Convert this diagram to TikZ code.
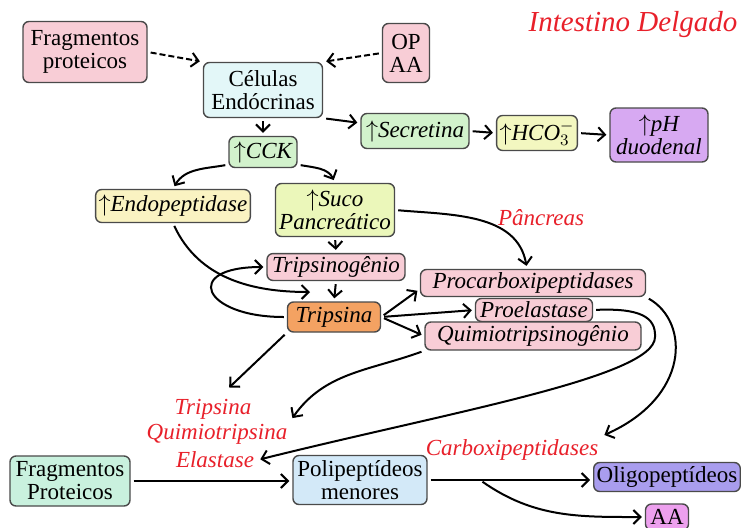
\documentclass[tikz,border=0pt]{standalone}
\usepackage{fontspec}
\setmainfont{Liberation Serif}
\usetikzlibrary{arrows.meta}
\definecolor{Borda}{HTML}{4A4A4A}
\definecolor{Rosa}{HTML}{F8CDD6}
\definecolor{Ciano}{HTML}{E3F7F8}
\definecolor{Verde}{HTML}{D2F2CC}
\definecolor{AmareloHCO}{HTML}{F3F7C0}
\definecolor{AmareloEndo}{HTML}{FAF3C2}
\definecolor{AmareloSuco}{HTML}{EBF7BA}
\definecolor{Roxo}{HTML}{D7A9F2}
\definecolor{Laranja}{HTML}{F4A262}
\definecolor{Aqua}{HTML}{C9F1DE}
\definecolor{Azul}{HTML}{D3E9F8}
\definecolor{Lilas}{HTML}{A99DEE}
\definecolor{Magenta}{HTML}{EDA0EE}
\definecolor{Vermelho}{HTML}{E8202A}

\begin{document}
\begin{tikzpicture}[
    x=0.5pt, y=0.5pt,
    >={Straight Barb[length=3.5pt,width=7pt]},
    caixa/.style={
        draw=Borda,
        line width=0.7pt,
        rounded corners=3pt,
        align=center,
        inner sep=1.5pt,
        font=\fontsize{11.5}{11.5}\selectfont
    },
    caixait/.style={
        caixa,
        font=\fontsize{11.5}{11.5}\selectfont\itshape
    },
    rotulo/.style={
        text=Vermelho,
        align=center,
        inner sep=1.5pt,
        font=\fontsize{11.5}{12.5}\selectfont\itshape
    },
    seta/.style={
        ->,
        line width=1pt,
        shorten >=1.5pt,
        shorten <=1.5pt
    },
    tracejada/.style={
        seta,
        dash pattern=on 3pt off 1.5pt
    }
]
\useasboundingbox (0,0) rectangle (743,527);

% sinais hormonais
\node[caixa, fill=Rosa, minimum width=62pt, minimum height=30.5pt] (frag1) at (85,475) {Fragmentos\\proteicos};
\node[caixa, fill=Rosa, minimum width=23.5pt, minimum height=29.5pt] (opaa) at (406,474) {OP\\AA};
\node[caixa, fill=Ciano, minimum width=59.5pt, minimum height=27.5pt] (celulas) at (263,437) {Células\\Endócrinas};
\node[rotulo, font=\fontsize{14.5}{14.5}\selectfont\itshape] (intestino) at (633,502) {Intestino Delgado};

\node[caixait, fill=Verde, minimum width=54pt, minimum height=17.5pt] (secretina) at (415,396) {$\uparrow$Secretina};
\node[caixait, fill=AmareloHCO, minimum width=40pt, minimum height=17.5pt] (hco) at (537,394) {$\uparrow$HCO$_3^-$};
\node[caixait, fill=Roxo, minimum width=49pt, minimum height=27pt] (ph) at (659,392) {$\uparrow$pH\\duodenal};
\node[caixait, fill=Verde, minimum width=34pt, minimum height=15.5pt] (cck) at (263,375) {$\uparrow$CCK};

% pancreas
\node[caixait, fill=AmareloEndo, minimum width=77pt, minimum height=16.5pt] (endo) at (173,321) {$\uparrow$Endopeptidase};
\node[caixait, fill=AmareloSuco, minimum width=59.5pt, minimum height=26.5pt] (suco) at (335,317) {$\uparrow$Suco\\Pancreático};
\node[rotulo] (pancreas) at (541,309) {Pâncreas};
\node[caixait, fill=Rosa, minimum width=69pt, minimum height=13pt] (tripsinogenio) at (336,260) {Tripsinogênio};
\node[caixait, fill=Laranja, minimum width=46.5pt, minimum height=15pt] (tripsina) at (334,210) {Tripsina};
\node[caixait, fill=Rosa, minimum width=112.5pt, minimum height=13.5pt] (procarbox) at (533,244) {Procarboxipeptidases};
\node[caixait, fill=Rosa, minimum width=58.5pt, minimum height=11.5pt] (proelastase) at (534,217) {Proelastase};
\node[caixait, fill=Rosa, minimum width=108pt, minimum height=14pt] (quimio) at (533,191) {Quimiotripsinogênio};

\node[rotulo] (enzA) at (213,118) {Tripsina};
\node[rotulo] (enzB) at (217,93) {Quimiotripsina};
\node[rotulo] (enzC) at (215,67) {Elastase};

% digestao
\node[caixa, fill=Aqua, minimum width=60pt, minimum height=25pt] (frag2) at (70,46) {Fragmentos\\Proteicos};
\node[caixa, fill=Azul, minimum width=67pt, minimum height=24.5pt] (polipep) at (360,47) {Polipeptídeos\\menores};
\node[rotulo] (carboxi) at (512,77) {Carboxipeptidases};
\node[caixa, fill=Lilas, minimum width=72.5pt, minimum height=14.5pt] (oligo) at (667,50) {Oligopeptídeos};
\node[caixa, fill=Magenta, minimum width=21.5pt, minimum height=13pt] (aa) at (667,10) {AA};

\coordinate (ativa) at (313,235);
\coordinate (ramo) at (480,47);

\draw[tracejada] (frag1.east) -- (celulas.north west);
\draw[tracejada] (opaa.west) -- (celulas.north east);
\draw[seta] (celulas.south east) -- ([yshift=4pt]secretina.west);
\draw[seta] (celulas.south) -- (cck.north);
\draw[seta] (secretina.east) -- (hco.west);
\draw[seta] (hco.east) -- (ph.west);
\draw[seta] (cck.200) to[out=190,in=60] (endo.north);
\draw[seta] (cck.340) to[out=-10,in=115] (suco.north);

\draw[seta] (endo.south) to[out=-65,in=180] (ativa);
\draw[seta] (suco.south) -- (tripsinogenio.north);
\draw[seta] (tripsinogenio.south) -- (tripsina.north);
\draw[seta] (tripsina.west) to[out=180,in=180,looseness=4] (tripsinogenio.west);
\draw[seta] (suco.east) to[out=-5,in=100] ([xshift=-3pt]procarbox.north);
\draw[seta] (tripsina.east) -- ([yshift=-3pt]procarbox.west);
\draw[seta] (tripsina.east) -- (proelastase.west);
\draw[seta] (tripsina.east) -- (quimio.west);

\draw[seta] (tripsina.south west) -- ([shift={(7pt,3pt)}]enzA.north);
\draw[seta] (quimio.south west) to[out=200,in=55] (enzB.north east);
\draw[seta] (proelastase.east) .. controls (640,219) and (656,210) .. (655,190)
    .. controls (655,150) and (450,115) .. (enzC.east);
\draw[seta] (procarbox.south east) .. controls (690,205) and (690,130) .. (carboxi.north east);

\draw[seta] (frag2.east) -- (frag2.east -| polipep.west);
\draw[seta] (polipep.east) -- (polipep.east -| oligo.west);
\draw[seta] (ramo) to[out=-35,in=180] (aa.west);

\end{tikzpicture}
\end{document}
